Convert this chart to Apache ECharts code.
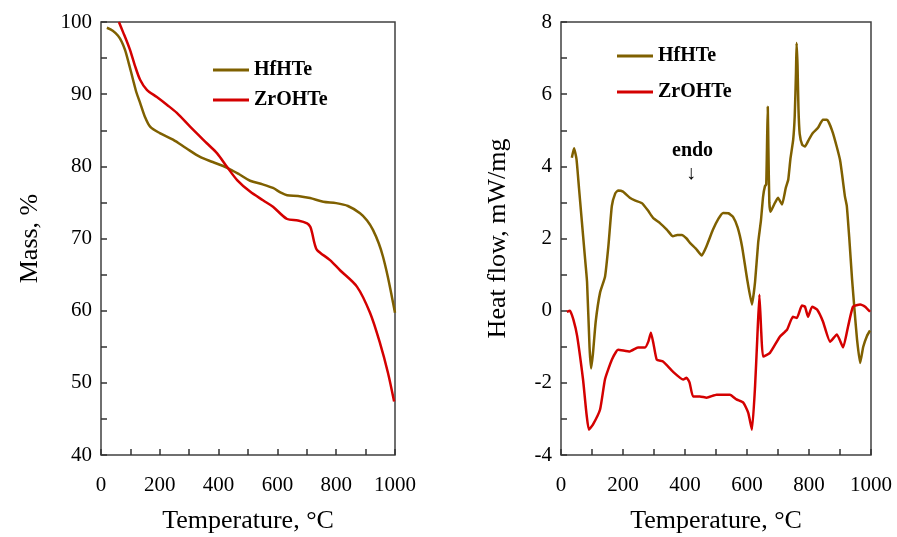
<!DOCTYPE html>
<html>
<head>
<meta charset="utf-8">
<script src="https://cdn.jsdelivr.net/npm/echarts@6/dist/echarts.min.js"></script>
<style>
  html, body { margin: 0; padding: 0; background: #fff; }
  #chart { width: 897px; height: 537px; }
</style>
</head>
<body>
<div id="chart"></div>
<script>
// TGA, HfHTe
var tgaHfTemp = [20, 40, 58, 70, 82, 95, 109, 120, 133, 150, 167, 200, 245, 290, 337, 380, 429, 470, 507, 550, 585, 610, 633, 670, 711, 756, 800, 840, 881, 905, 925, 945, 959, 975, 990, 1000];
var tgaHfMass = [99.2, 98.8, 98.1, 97.3, 96.1, 94.2, 92.0, 90.3, 88.8, 86.8, 85.5, 84.6, 83.7, 82.5, 81.3, 80.6, 79.8, 78.9, 78.0, 77.5, 77.0, 76.4, 76.0, 75.9, 75.6, 75.1, 74.9, 74.5, 73.5, 72.5, 71.2, 69.3, 67.5, 64.8, 61.8, 59.7];
// TGA, ZrOHTe
var tgaZrTemp = [61, 75, 88, 99, 115, 133, 156, 190, 225, 258, 303, 360, 395, 429, 463, 507, 551, 585, 633, 670, 701, 712, 718, 727, 735, 779, 813, 871, 915, 949, 976, 997];
var tgaZrMass = [100.0, 98.6, 97.3, 96.1, 94.0, 92.0, 90.6, 89.6, 88.5, 87.4, 85.5, 83.2, 81.8, 79.9, 78.1, 76.5, 75.3, 74.4, 72.7, 72.5, 72.1, 71.6, 70.8, 69.2, 68.4, 67.0, 65.6, 63.3, 59.7, 55.5, 51.4, 47.4];
// DSC, HfHTe
var dscHfTemp = [35, 42, 50, 58, 66, 76, 84, 92, 97, 103, 112, 126, 142, 153, 164, 175, 184, 200, 222, 240, 261, 280, 297, 320, 342, 361, 375, 390, 405, 416, 435, 454, 470, 490, 508, 523, 540, 555, 570, 584, 600, 616, 626, 636, 645, 652, 658, 662, 665, 667, 669, 672, 676, 688, 700, 713, 725, 733, 740, 749, 754, 758, 760, 763, 766, 770, 778, 787, 800, 813, 829, 845, 858, 877, 900, 916, 922, 930, 939, 947, 955, 965, 975, 987, 997];
var dscHfFlow = [4.24, 4.5, 4.2, 3.4, 2.6, 1.6, 0.8, -1.0, -1.6, -1.2, -0.3, 0.5, 0.94, 1.8, 2.9, 3.25, 3.33, 3.3, 3.13, 3.05, 2.98, 2.78, 2.57, 2.42, 2.24, 2.06, 2.1, 2.1, 2.0, 1.88, 1.72, 1.53, 1.8, 2.24, 2.55, 2.71, 2.7, 2.6, 2.3, 1.78, 0.9, 0.17, 0.8, 1.88, 2.5, 3.17, 3.45, 3.5, 4.8, 5.65, 4.5, 3.0, 2.74, 2.95, 3.13, 2.94, 3.4, 3.63, 4.2, 4.74, 5.4, 6.6, 7.42, 6.8, 5.6, 4.9, 4.6, 4.55, 4.75, 4.93, 5.07, 5.29, 5.29, 4.93, 4.18, 3.16, 2.9, 2.0, 0.86, 0.0, -0.8, -1.45, -1.0, -0.7, -0.55];
// DSC, ZrOHTe
var dscZrTemp = [19, 29, 40, 52, 71, 90, 103, 126, 142, 164, 184, 222, 248, 271, 282, 290, 298, 309, 329, 361, 394, 405, 415, 426, 448, 470, 502, 545, 566, 588, 604, 616, 626, 633, 640, 646, 652, 674, 706, 729, 748, 761, 777, 787, 797, 810, 826, 845, 868, 890, 910, 926, 942, 965, 981, 997];
var dscZrFlow = [-0.03, 0.0, -0.25, -0.7, -1.9, -3.3, -3.16, -2.74, -1.9, -1.36, -1.08, -1.13, -1.02, -1.02, -0.85, -0.61, -0.9, -1.36, -1.41, -1.69, -1.91, -1.86, -2.0, -2.38, -2.38, -2.41, -2.33, -2.33, -2.46, -2.55, -2.83, -3.3, -2.1, -0.8, 0.44, -0.6, -1.27, -1.17, -0.72, -0.53, -0.17, -0.2, 0.14, 0.11, -0.17, 0.11, 0.03, -0.3, -0.86, -0.66, -1.02, -0.44, 0.11, 0.17, 0.11, -0.03];

var olive = '#7f6000';
var red = '#d40000';
var serif = 'Liberation Serif, Times New Roman, serif';

function zip(a, b) {
  return a.map(function (v, i) { return [v, b[i]]; });
}

var echart = echarts.init(document.getElementById('chart'));

var xAxisBase = function (idx) {
  return {
    type: 'value',
    gridIndex: idx,
    min: 0,
    max: 1000,
    interval: 100,
    name: 'Temperature, \u00b0C',
    nameLocation: 'middle',
    nameGap: 53,
    nameTextStyle: { fontFamily: serif, fontSize: 26, color: '#000' },
    axisLine: { show: false, onZero: false },
    axisTick: { show: true, inside: true, length: 6, lineStyle: { color: '#333', width: 1.5 } },
    axisLabel: {
      fontFamily: serif, fontSize: 21, color: '#000', margin: 20,
      formatter: function (v) { return v % 200 === 0 ? v : ''; }
    },
    splitLine: { show: false }
  };
};

var option = {
  backgroundColor: '#fff',
  animation: false,
  grid: [
    { left: 101, right: 502, top: 22, bottom: 82, outerBoundsMode: 'none', show: true, borderColor: '#404040', borderWidth: 1.5 },
    { left: 561, right: 26, top: 22, bottom: 82, outerBoundsMode: 'none', show: true, borderColor: '#404040', borderWidth: 1.5 }
  ],
  legend: [
    {
      data: ['HfHTe', 'ZrOHTe'],
      orient: 'vertical',
      left: 213,
      top: 60,
      padding: 0,
      itemGap: 10,
      itemWidth: 36,
      itemHeight: 3,
      icon: 'rect',
      textStyle: { fontFamily: serif, fontSize: 20, fontWeight: 'bold', color: '#000', lineHeight: 20 }
    },
    {
      data: ['HfHTe', 'ZrOHTe'],
      orient: 'vertical',
      left: 617,
      top: 46,
      padding: 0,
      itemGap: 16,
      itemWidth: 36,
      itemHeight: 3,
      icon: 'rect',
      textStyle: { fontFamily: serif, fontSize: 20, fontWeight: 'bold', color: '#000', lineHeight: 20 }
    }
  ],
  xAxis: [xAxisBase(0), xAxisBase(1)],
  yAxis: [
    {
      type: 'value',
      gridIndex: 0,
      min: 40,
      max: 100,
      interval: 5,
      name: 'Mass, %',
      nameLocation: 'middle',
      nameGap: 58,
      nameTextStyle: { fontFamily: serif, fontSize: 26, color: '#000' },
      axisLine: { show: false, onZero: false },
      axisTick: { show: true, inside: true, length: 6, lineStyle: { color: '#333', width: 1.5 } },
      axisLabel: {
        fontFamily: serif, fontSize: 21, color: '#000', margin: 9,
        formatter: function (v) { return v % 10 === 0 ? v : ''; }
      },
      splitLine: { show: false }
    },
    {
      type: 'value',
      gridIndex: 1,
      min: -4,
      max: 8,
      interval: 1,
      name: 'Heat flow, mW/mg',
      nameLocation: 'middle',
      nameGap: 50,
      nameTextStyle: { fontFamily: serif, fontSize: 26, color: '#000' },
      axisLine: { show: false, onZero: false },
      axisTick: { show: true, inside: true, length: 6, lineStyle: { color: '#333', width: 1.5 } },
      axisLabel: {
        fontFamily: serif, fontSize: 21, color: '#000', margin: 9,
        formatter: function (v) { return v % 2 === 0 ? v : ''; }
      },
      splitLine: { show: false }
    }
  ],
  graphic: [
    { type: 'text', left: 672, top: 141, style: { text: 'endo', fontFamily: serif, fontSize: 20, fontWeight: 'bold', fill: '#000' } },
    { type: 'text', left: 686, top: 164, style: { text: '\u2193', fontFamily: serif, fontSize: 20, fill: '#000' } }
  ],
  series: [
    {
      name: 'HfHTe', type: 'line', xAxisIndex: 0, yAxisIndex: 0,
      showSymbol: false, smooth: 0.3,
      lineStyle: { color: olive, width: 2.5 }, itemStyle: { color: olive },
      data: zip(tgaHfTemp, tgaHfMass)
    },
    {
      name: 'ZrOHTe', type: 'line', xAxisIndex: 0, yAxisIndex: 0,
      showSymbol: false, smooth: 0.3,
      lineStyle: { color: red, width: 2.5 }, itemStyle: { color: red },
      data: zip(tgaZrTemp, tgaZrMass)
    },
    {
      name: 'HfHTe', type: 'line', xAxisIndex: 1, yAxisIndex: 1,
      showSymbol: false, smooth: 0.15,
      lineStyle: { color: olive, width: 2.5 }, itemStyle: { color: olive },
      data: zip(dscHfTemp, dscHfFlow)
    },
    {
      name: 'ZrOHTe', type: 'line', xAxisIndex: 1, yAxisIndex: 1,
      showSymbol: false, smooth: 0.15,
      lineStyle: { color: red, width: 2.5 }, itemStyle: { color: red },
      data: zip(dscZrTemp, dscZrFlow)
    }
  ]
};
echart.setOption(option);
</script>
</body>
</html>
